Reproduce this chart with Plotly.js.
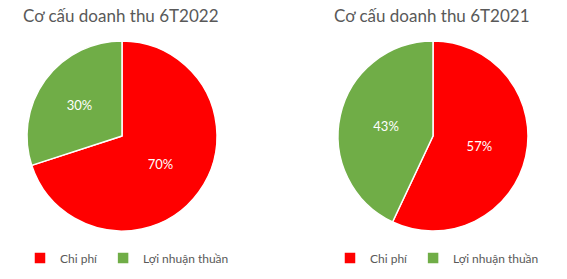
<!DOCTYPE html>
<html>
<head>
<meta charset="utf-8">
<script src="https://cdn.plot.ly/plotly-3.0.1.min.js"></script>
<style>html,body{margin:0;padding:0;background:#fff;}#chart{width:567px;height:279px;}</style>
</head>
<body>
<div id="chart"></div>
<script>
const categories = ["Chi phí", "Lợi nhuận thuần"];
const values2022 = [70, 30];
const values2021 = [57, 43];
const titles = ["Cơ cấu doanh thu 6T2022", "Cơ cấu doanh thu 6T2021"];
const colors = ["#FF0000", "#70AD47"];

const FONT = "Lato, 'Open Sans', sans-serif";
const common = {
  type: "pie",
  sort: false,
  direction: "clockwise",
  rotation: 0,
  marker: {colors: colors, line: {color: "#ffffff", width: 1.5}},
  textinfo: "percent",
  texttemplate: "%{percent:.0%}",
  textposition: "inside",
  insidetextfont: {family: FONT, size: 13, color: "#ffffff"},
  hoverinfo: "label+percent",
  showlegend: true
};

const data = [
  Object.assign({}, common, {
    labels: categories,
    values: values2022,
    domain: {x: [27/567, 217/567], y: [1 - 231/279, 1 - 41/279]},
    legend: "legend"
  }),
  Object.assign({}, common, {
    // zero-width space keeps the second legend's entries distinct from the first
    labels: categories.map(c => c + "\u200B"),
    values: values2021,
    domain: {x: [338/567, 528/567], y: [1 - 231/279, 1 - 41/279]},
    legend: "legend2"
  })
];

const legendBase = {
  orientation: "h",
  font: {family: FONT, size: 12, color: "#595959"},
  xanchor: "left",
  yanchor: "middle",
  y: 1 - 258/279,
  itemwidth: 30,
  bgcolor: "rgba(0,0,0,0)",
  traceorder: "normal"
};

const layout = {
  width: 567,
  height: 279,
  margin: {l: 0, r: 0, t: 0, b: 0},
  paper_bgcolor: "#ffffff",
  plot_bgcolor: "#ffffff",
  font: {family: FONT, color: "#595959"},
  legend: Object.assign({}, legendBase, {x: 20/567}),
  legend2: Object.assign({}, legendBase, {x: 330/567}),
  annotations: [
    {text: titles[0], x: 121/567, y: 1 - 16/279, xref: "paper", yref: "paper", xanchor: "center", yanchor: "middle", showarrow: false, font: {family: FONT, size: 17, color: "#595959"}},
    {text: titles[1], x: 432/567, y: 1 - 16/279, xref: "paper", yref: "paper", xanchor: "center", yanchor: "middle", showarrow: false, font: {family: FONT, size: 17, color: "#595959"}}
  ]
};

Plotly.newPlot("chart", data, layout, {displayModeBar: false, staticPlot: true});
</script>
</body>
</html>
